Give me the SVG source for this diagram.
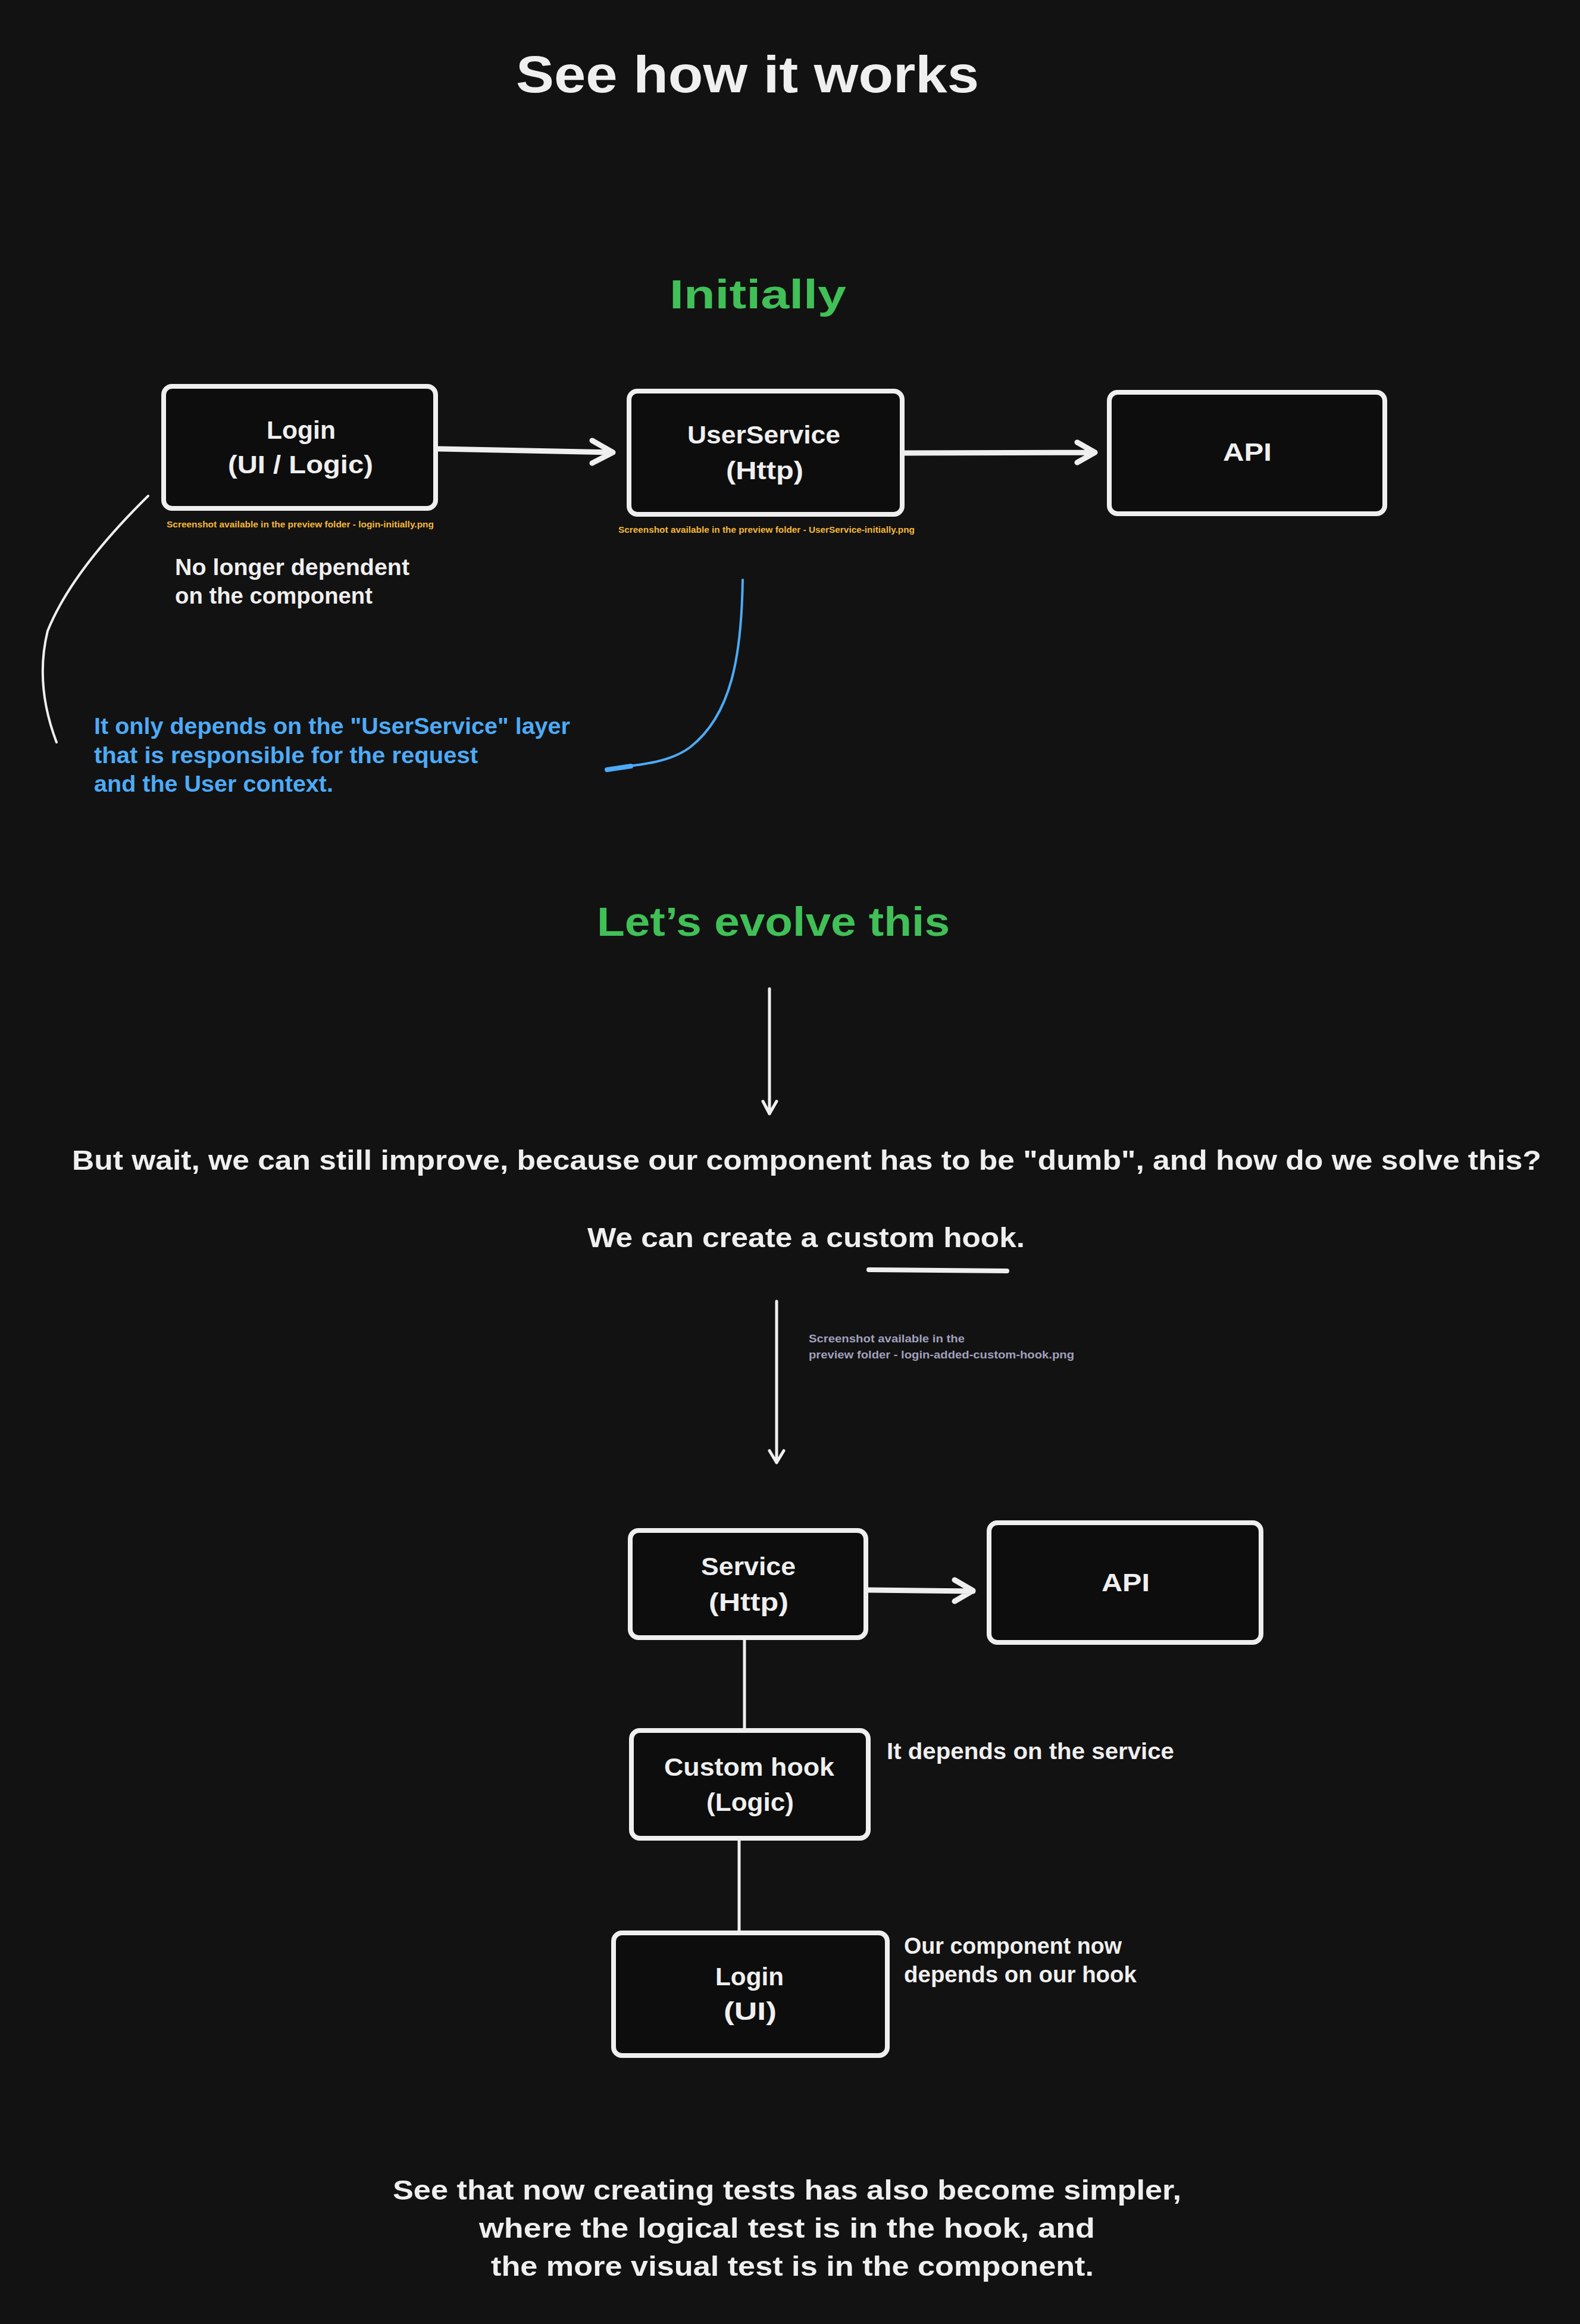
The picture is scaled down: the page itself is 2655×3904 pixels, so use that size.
<svg xmlns="http://www.w3.org/2000/svg" width="2655" height="3904" viewBox="0 0 2655 3904">
<defs>
<style>
text{font-family:"Liberation Sans","DejaVu Sans",sans-serif;font-weight:bold;fill:#efefef}
.g{fill:#40c057}
.b{fill:#4dabf7}
.o{fill:#f5b83a}
.gr{fill:#a0a0bc}
.box{fill:#0d0d0d;stroke:#efefef;stroke-width:8;stroke-linejoin:round}
.ln{fill:none;stroke:#efefef;stroke-linecap:round;stroke-linejoin:round}
.h1{font-size:88px}
.h2{font-size:68px}
.lbl{font-size:42px}
.bd{font-size:38px}
.lg{font-size:46px}
.cap{font-size:14px}
.sm{font-size:19px}
</style>
</defs>
<rect x="0" y="0" width="2655" height="3904" fill="#121212"/>

<g id="titles">
<text class="h1" x="867" y="155" textLength="778" lengthAdjust="spacingAndGlyphs">See how it works</text>
<text class="h2 g" x="1125" y="518" textLength="297" lengthAdjust="spacingAndGlyphs">Initially</text>
<text class="h2 g" x="1003" y="1572" textLength="593" lengthAdjust="spacingAndGlyphs">Let’s evolve this</text>
</g>

<g id="node-login-initial">
<rect class="box" x="275" y="649" width="457" height="205" rx="14"/>
<text class="lbl" x="448" y="737" textLength="116" lengthAdjust="spacingAndGlyphs">Login</text>
<text class="lbl" x="383" y="795" textLength="244" lengthAdjust="spacingAndGlyphs">(UI / Logic)</text>
</g>
<g id="node-userservice">
<rect class="box" x="1057" y="657" width="459" height="207" rx="14"/>
<text class="lbl" x="1155" y="745" textLength="257" lengthAdjust="spacingAndGlyphs">UserService</text>
<text class="lbl" x="1220" y="805" textLength="130" lengthAdjust="spacingAndGlyphs">(Http)</text>
</g>
<g id="node-api-initial">
<rect class="box" x="1864" y="659" width="463" height="204" rx="14"/>
<text class="lbl" x="2055" y="774" textLength="82" lengthAdjust="spacingAndGlyphs">API</text>
</g>

<g id="notes-initial">
<text class="cap o" x="280" y="886" textLength="449" lengthAdjust="spacingAndGlyphs">Screenshot available in the preview folder - login-initially.png</text>
<text class="cap o" x="1039" y="895" textLength="498" lengthAdjust="spacingAndGlyphs">Screenshot available in the preview folder - UserService-initially.png</text>
<text class="bd" x="294" y="966" textLength="394" lengthAdjust="spacingAndGlyphs">No longer dependent</text>
<text class="bd" x="294" y="1014" textLength="332" lengthAdjust="spacingAndGlyphs">on the component</text>
<text class="bd b" x="158" y="1233" textLength="800" lengthAdjust="spacingAndGlyphs">It only depends on the "UserService" layer</text>
<text class="bd b" x="158" y="1282" textLength="645" lengthAdjust="spacingAndGlyphs">that is responsible for the request</text>
<text class="bd b" x="158" y="1330" textLength="402" lengthAdjust="spacingAndGlyphs">and the User context.</text>
</g>

<g id="middle-text">
<text class="lg" x="121" y="1965" textLength="2469" lengthAdjust="spacingAndGlyphs">But wait, we can still improve, because our component has to be "dumb", and how do we solve this?</text>
<text class="lg" x="987" y="2095" textLength="735" lengthAdjust="spacingAndGlyphs">We can create a custom hook.</text>
<text class="sm gr" x="1359" y="2255" textLength="262" lengthAdjust="spacingAndGlyphs">Screenshot available in the</text>
<text class="sm gr" x="1359" y="2282" textLength="446" lengthAdjust="spacingAndGlyphs">preview folder - login-added-custom-hook.png</text>
</g>

<g id="node-service">
<rect class="box" x="1059" y="2571" width="396" height="180" rx="14"/>
<text class="lbl" x="1178" y="2646" textLength="159" lengthAdjust="spacingAndGlyphs">Service</text>
<text class="lbl" x="1191" y="2706" textLength="134" lengthAdjust="spacingAndGlyphs">(Http)</text>
</g>
<g id="node-api-final">
<rect class="box" x="1662" y="2558" width="457" height="201" rx="14"/>
<text class="lbl" x="1851" y="2673" textLength="81" lengthAdjust="spacingAndGlyphs">API</text>
</g>
<g id="node-custom-hook">
<rect class="box" x="1061" y="2907" width="398" height="181" rx="14"/>
<text class="lbl" x="1116" y="2983" textLength="286" lengthAdjust="spacingAndGlyphs">Custom hook</text>
<text class="lbl" x="1187" y="3042" textLength="147" lengthAdjust="spacingAndGlyphs">(Logic)</text>
</g>
<g id="node-login-final">
<rect class="box" x="1031" y="3247" width="460" height="206" rx="14"/>
<text class="lbl" x="1202" y="3335" textLength="115" lengthAdjust="spacingAndGlyphs">Login</text>
<text class="lbl" x="1216" y="3393" textLength="89" lengthAdjust="spacingAndGlyphs">(UI)</text>
</g>

<g id="notes-final">
<text class="bd" x="1490" y="2955" textLength="483" lengthAdjust="spacingAndGlyphs">It depends on the service</text>
<text class="bd" x="1519" y="3282" textLength="366" lengthAdjust="spacingAndGlyphs">Our component now</text>
<text class="bd" x="1519" y="3330" textLength="391" lengthAdjust="spacingAndGlyphs">depends on our hook</text>
<text class="lg" x="660" y="3695" textLength="1325" lengthAdjust="spacingAndGlyphs">See that now creating tests has also become simpler,</text>
<text class="lg" x="805" y="3759" textLength="1035" lengthAdjust="spacingAndGlyphs">where the logical test is in the hook, and</text>
<text class="lg" x="825" y="3823" textLength="1013" lengthAdjust="spacingAndGlyphs">the more visual test is in the component.</text>
</g>

<g id="connectors">
<path class="ln" stroke-width="9" d="M736,754 L1030,760 M995,740 L1030,760 L995,778"/>
<path class="ln" stroke-width="9" d="M1520,761 L1840,760 M1810,743 L1840,760 L1810,777"/>
<path class="ln" stroke-width="4" d="M249,833 Q120,960 80,1060 Q58,1150 95,1247"/>
<path class="ln" stroke="#4dabf7" style="stroke:#4dabf7" stroke-width="4" d="M1248,974 C1246,1100 1230,1200 1160,1255 C1120,1285 1060,1285 1020,1292"/>
<path class="ln" style="stroke:#4dabf7" stroke-width="8" d="M1060,1287 L1020,1293"/>
<path class="ln" stroke-width="5" d="M1293,1661 L1293,1871 M1282,1850 L1293,1871 L1305,1850"/>
<path class="ln" stroke-width="8" d="M1460,2133 L1692,2135"/>
<path class="ln" stroke-width="5" d="M1305,2186 L1305,2457 M1293,2437 L1305,2457 L1317,2437"/>
<path class="ln" stroke-width="9" d="M1459,2671 L1635,2673 M1604,2654 L1635,2672 L1604,2690"/>
<path class="ln" stroke-width="5" d="M1251,2755 L1251,2903"/>
<path class="ln" stroke-width="5" d="M1242,3092 L1242,3243"/>
</g>
</svg>
